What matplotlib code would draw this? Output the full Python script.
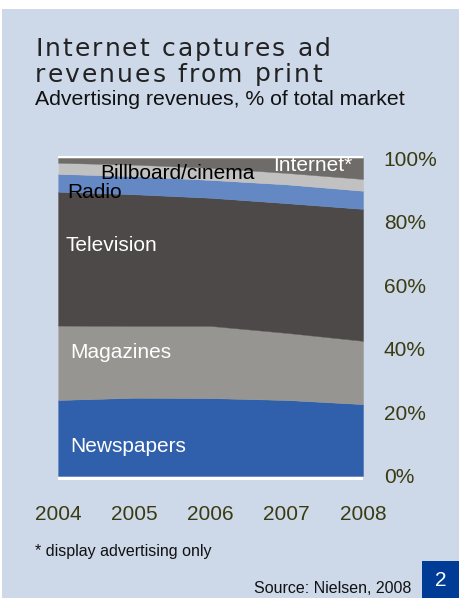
import matplotlib.pyplot as plt
from matplotlib.patches import Rectangle
from matplotlib.font_manager import FontProperties

# Share of total advertising revenues, % (stacked bottom to top)
years = [2004, 2005, 2006, 2007, 2008]
newspapers = [23.9, 24.6, 24.5, 23.9, 22.6]
magazines = [23.4, 22.6, 22.7, 21.1, 19.9]
television = [42.1, 41.4, 40.3, 40.8, 41.5]
radio = [5.6, 5.7, 5.6, 5.9, 5.7]
billboard = [3.5, 3.6, 3.8, 3.6, 3.7]
internet = [1.5, 2.1, 3.1, 4.7, 6.6]

pct_ticks = [0, 20, 40, 60, 80, 100]
pct_labels = ["0%", "20%", "40%", "60%", "80%", "100%"]

colors = ["#3060ab", "#969592", "#4d4948", "#6388c4", "#c1c1c1", "#6e6b69"]
bg = "#cdd8e8"
olive = "#3b3b12"
W, H = 459, 598

plt.rcParams["font.family"] = ["Liberation Sans", "DejaVu Sans"]

fig = plt.figure(figsize=(W / 100, H / 100), dpi=100)
fig.patch.set_facecolor("white")
fig.add_artist(Rectangle((2 / W, 0), 1, 1 - 9 / H, transform=fig.transFigure,
                         facecolor=bg, edgecolor="none", zorder=0))


def spaced_text(x_px, y_px, s, prop, spacing, color):
    # draw a string with extra tracking, one glyph at a time (pixel coords from top-left)
    r = fig.canvas.get_renderer()
    for i, ch in enumerate(s):
        w = r.get_text_width_height_descent(s[:i], prop, ismath=False)[0] if i else 0
        fig.text((x_px + w + i * spacing) / W, 1 - y_px / H, ch,
                 fontproperties=prop, color=color, va="baseline")


# Page number box
fig.add_artist(Rectangle((422 / W, 0), 37 / W, 37 / H, transform=fig.transFigure,
                         facecolor="#003c96", edgecolor="none", zorder=1))
fig.text(441 / W, 1 - 581 / H, "2", color="white", fontsize=15,
         ha="center", va="center")

# Titles
title_font = FontProperties(family="DejaVu Sans", size=18)
spaced_text(35, 56, "Internet captures ad", title_font, 2.1, "#222222")
spaced_text(35, 81.5, "revenues from print", title_font, 2.1, "#222222")
fig.text(35 / W, 1 - 105 / H, "Advertising revenues, % of total market",
         fontsize=15.3, color="#111111", va="baseline")

ax = fig.add_axes([58 / W, 1 - 480 / H, 305 / W, 324 / H])
ax.set_facecolor("white")
ax.stackplot(years, newspapers, magazines, television, radio, billboard, internet,
             colors=colors, linewidth=0.3, edgecolor="face")
ax.set_xlim(2004, 2008)
ax.set_ylim(-1.26, 100.63)

ax.yaxis.tick_right()
ax.set_yticks(pct_ticks)
ax.set_yticklabels(pct_labels, fontsize=15, color=olive, ha="left")
ax.tick_params(axis="y", length=0, pad=15)
ax.set_xticks(years)
ax.set_xticklabels([str(y) for y in years], fontsize=15, color=olive)
ax.tick_params(axis="x", length=0, pad=18)
for s in ax.spines.values():
    s.set_visible(False)

# Band labels
ax.text(2004.55, 93.3, "Billboard/cinema", fontsize=15, color="black", va="baseline")
ax.text(2004.12, 87.5, "Radio", fontsize=15, color="black", va="baseline")
ax.text(2006.82, 96.0, "Internet*", fontsize=15, color="white", va="baseline")
ax.text(2004.10, 70.6, "Television", fontsize=15, color="white", va="baseline")
ax.text(2004.16, 37.0, "Magazines", fontsize=15, color="white", va="baseline")
ax.text(2004.16, 7.6, "Newspapers", fontsize=15, color="white", va="baseline")

fig.text(35 / W, 1 - 556 / H, "* display advertising only", fontsize=11.5,
         color="#111111", va="baseline")
fig.text(411 / W, 1 - 593 / H, "Source: Nielsen, 2008", fontsize=11.5,
         color="#111111", va="baseline", ha="right")

fig.savefig("out.png", dpi=100, facecolor=fig.get_facecolor())
